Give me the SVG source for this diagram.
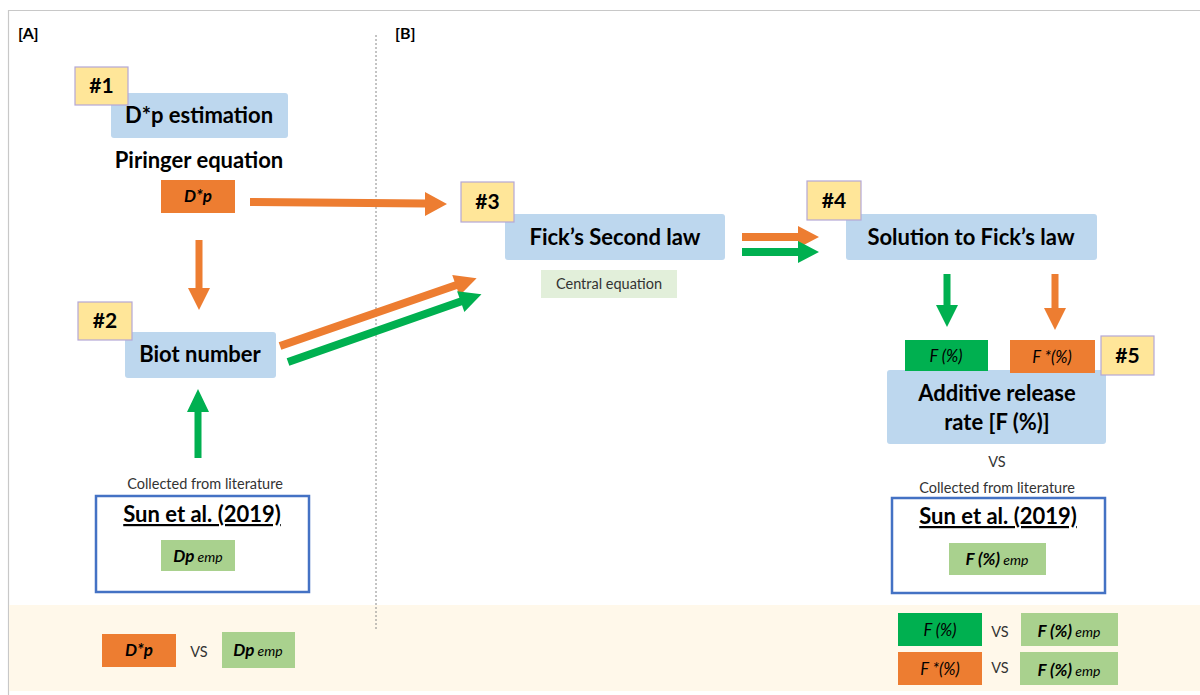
<svg xmlns="http://www.w3.org/2000/svg" width="1200" height="695" viewBox="0 0 1200 695">
<defs>
<style>
text{font-family:Lato,"Liberation Sans",sans-serif;fill:#000}
.tag{fill:#FFE699;stroke:#B4A7D6;stroke-width:1.2}
.tagt{font-size:21px;font-weight:bold;text-anchor:middle}
.blue{fill:#BDD7EE}
.bt{font-size:22px;font-weight:bold;text-anchor:middle}
.or{fill:#ED7D31}
.gr{fill:#00B050}
.lg{fill:#A9D18E}
.it{font-style:italic;font-size:16.5px;text-anchor:middle}
.bi{font-style:italic;font-weight:bold;font-size:17px;text-anchor:middle}
.sm{font-size:14.5px;fill:#333;text-anchor:middle}
.sun{fill:#fff;stroke:#4472C4;stroke-width:2.5}
.sunt{font-size:22px;font-weight:bold;text-anchor:middle;text-decoration:underline}
.ao{fill:#ED7D31}
.ag{fill:#00B050}
.b{font-weight:bold;font-style:italic;font-size:17px}
.e{font-style:italic;font-size:14px}
</style>
</defs>
<rect width="1200" height="695" fill="#fff"/>
<!-- frame -->
<line x1="8" y1="10.5" x2="1200" y2="10.5" stroke="#c8c8c8" stroke-width="1.2"/>
<line x1="8.5" y1="10" x2="8.5" y2="695" stroke="#c8c8c8" stroke-width="1.2"/>
<rect x="9" y="605" width="1191" height="86" fill="#FFF8EA"/>
<line x1="376" y1="35" x2="376" y2="630" stroke="#888" stroke-width="1" stroke-dasharray="2,2"/>
<text x="18" y="39" font-size="16" font-weight="bold">[A]</text>
<text x="395" y="39" font-size="16" font-weight="bold">[B]</text>

<g id="connectors">
<path class="ao" d="M250,198 L425,199.5 L425,192 L447,204 L425,216 L425,207.5 L250,206 Z"/>
<path class="ao" d="M195.5,240 L202.5,240 L202.5,288 L210,288 L199,310 L188,288 L195.5,288 Z"/>
<path class="ag" d="M194.5,458 L201.5,458 L201.5,412 L209,412 L198,389 L187,412 L194.5,412 Z"/>
<g transform="translate(280,346) rotate(-19.04)">
<path class="ao" d="M0,-4 L186,-4 L186,-11 L208,0 L186,11 L186,4 L0,4 Z"/>
</g>
<g transform="translate(288,362) rotate(-19.3)">
<path class="ag" d="M0,-4 L183,-4 L183,-11 L205,0 L183,11 L183,4 L0,4 Z"/>
</g>
<path class="ao" d="M742,233 L798,233 L798,226 L819,237 L798,248 L798,241 L742,241 Z"/>
<path class="ag" d="M742,248 L798,248 L798,241 L819,252 L798,263 L798,256 L742,256 Z"/>
<path class="ag" d="M943.5,274 L950.5,274 L950.5,305 L958,305 L947,327 L936,305 L943.5,305 Z"/>
<path class="ao" d="M1051.5,274 L1058.5,274 L1058.5,308 L1066,308 L1055,330 L1044,308 L1051.5,308 Z"/>
</g>

<g id="n1">
<rect class="blue" x="111" y="93" width="177" height="45" rx="3"/>
<text class="bt" x="199" y="123">D*p estimation</text>
<rect class="tag" x="75" y="67" width="53" height="38"/>
<text class="tagt" x="101.5" y="93">#1</text>
</g>
<g id="piringer">
<text class="bt" x="199" y="168">Piringer equation</text>
<rect class="or" x="161" y="180" width="74" height="33"/>
<text class="bi" x="198" y="202">D*p</text>
</g>
<g id="n2">
<rect class="blue" x="125" y="332" width="151" height="46" rx="3"/>
<text class="bt" x="200" y="362">Biot number</text>
<rect class="tag" x="78" y="302" width="54" height="38"/>
<text class="tagt" x="105" y="328">#2</text>
</g>
<g id="litA">
<text class="sm" x="205" y="489">Collected from literature</text>
<rect class="sun" x="96" y="496" width="213" height="96"/>
<text class="sunt" x="202" y="522">Sun et al. (2019)</text>
<rect class="lg" x="161" y="540" width="74" height="31"/>
<text x="198" y="562" text-anchor="middle"><tspan class="b">Dp</tspan><tspan class="e"> emp</tspan></text>
</g>
<g id="n3">
<rect class="blue" x="505" y="214" width="220" height="46" rx="3"/>
<text class="bt" x="615" y="245">Fick’s Second law</text>
<rect class="tag" x="461" y="182" width="53" height="40"/>
<text class="tagt" x="487.5" y="209">#3</text>
<rect x="541" y="270" width="136" height="28" fill="#E2EFDA"/>
<text class="sm" x="609" y="289">Central equation</text>
</g>
<g id="n4">
<rect class="blue" x="846" y="214" width="251" height="46" rx="3"/>
<text class="bt" x="971" y="245">Solution to Fick’s law</text>
<rect class="tag" x="807" y="181" width="54" height="39"/>
<text class="tagt" x="834" y="208">#4</text>
</g>
<g id="n5">
<rect class="blue" x="887" y="370" width="219" height="74" rx="3"/>
<text class="bt" x="997" y="401">Additive release</text>
<text class="bt" x="997" y="430">rate [F (%)]</text>
<rect class="gr" x="905" y="340" width="83" height="31"/>
<text class="it" x="946" y="362">F (%)</text>
<rect class="or" x="1010" y="340" width="85" height="33"/>
<text class="it" x="1052" y="363">F *(%)</text>
<rect class="tag" x="1101" y="336" width="53" height="39"/>
<text class="tagt" x="1127.5" y="363">#5</text>
</g>
<g id="litB">
<text class="sm" x="997" y="467">VS</text>
<text class="sm" x="997" y="493">Collected from literature</text>
<rect class="sun" x="892" y="498" width="213" height="95"/>
<text class="sunt" x="998" y="524">Sun et al. (2019)</text>
<rect class="lg" x="949" y="543" width="97" height="32"/>
<text x="997" y="565" text-anchor="middle"><tspan class="b">F (%)</tspan><tspan class="e"> emp</tspan></text>
</g>
<g id="cmpA">
<rect class="or" x="102" y="634" width="74" height="33"/>
<text class="bi" x="139" y="656">D*p</text>
<text class="sm" x="199" y="657">VS</text>
<rect class="lg" x="222" y="632" width="73" height="36"/>
<text x="258" y="656" text-anchor="middle"><tspan class="b">Dp</tspan><tspan class="e"> emp</tspan></text>
</g>
<g id="cmpB">
<rect class="gr" x="898" y="613" width="84" height="33"/>
<text class="it" x="940" y="636">F (%)</text>
<text class="sm" x="1000" y="637">VS</text>
<rect class="lg" x="1021" y="613" width="97" height="33"/>
<text x="1069" y="637" text-anchor="middle"><tspan class="b">F (%)</tspan><tspan class="e"> emp</tspan></text>
<rect class="or" x="898" y="652" width="84" height="33"/>
<text class="it" x="940" y="675">F *(%)</text>
<text class="sm" x="1000" y="673">VS</text>
<rect class="lg" x="1020" y="652" width="98" height="33"/>
<text x="1069" y="676" text-anchor="middle"><tspan class="b">F (%)</tspan><tspan class="e"> emp</tspan></text>
</g>
</svg>
